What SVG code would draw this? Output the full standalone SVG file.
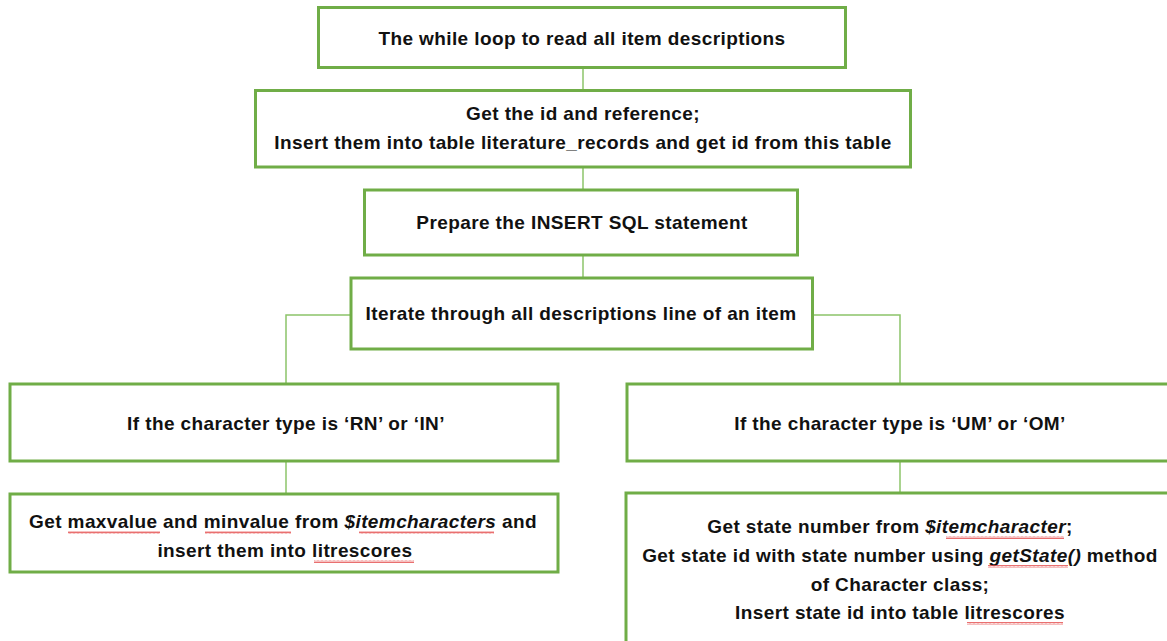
<svg xmlns="http://www.w3.org/2000/svg" width="1167" height="641" viewBox="0 0 1167 641">
  <style>
    .box { fill: #ffffff; stroke: #70AD47; stroke-width: 3; }
    .link { fill: none; stroke: #8CC46A; stroke-width: 1.5; }
    .lbl { font-family: "Liberation Sans", Arial, sans-serif; font-weight: bold; font-size: 19px; letter-spacing: 0.4px; fill: #111111; text-anchor: middle; }
    .it { font-style: italic; }
    .squig { fill: url(#squiggle); }
  </style>
  <defs>
    <!-- spell-check wavy underline -->
    <pattern id="squiggle" x="0" y="0" width="4" height="3" patternUnits="userSpaceOnUse">
      <path d="M0,2.5 L1,0.5 L2,2.5 L3,0.5 L4,2.5" fill="none" stroke="#E34B4B" stroke-width="0.8"/>
    </pattern>
  </defs>

  <!-- connectors -->
  <g id="connectors">
    <line class="link" x1="583" y1="68" x2="583" y2="90"/>
    <line class="link" x1="583" y1="167" x2="583" y2="190"/>
    <line class="link" x1="583" y1="255" x2="583" y2="278"/>
    <polyline class="link" points="351,315 286,315 286,384"/>
    <polyline class="link" points="812,315 900,315 900,384"/>
    <line class="link" x1="286" y1="461" x2="286" y2="494"/>
    <line class="link" x1="900" y1="461" x2="900" y2="493"/>
  </g>

  <g id="node-while-loop">
    <rect class="box" x="318.5" y="7.5" width="527" height="60"/>
    <text class="lbl" x="582" y="45">The while loop to read all item descriptions</text>
  </g>

  <g id="node-get-id">
    <rect class="box" x="255.5" y="90.5" width="655" height="76.5"/>
    <text class="lbl" x="583" y="120">Get the id and reference;</text>
    <text class="lbl" x="583" y="149">Insert them into table literature_records and get id from this table</text>
  </g>

  <g id="node-prepare">
    <rect class="box" x="364.5" y="190" width="433" height="65"/>
    <text class="lbl" x="582" y="229">Prepare the INSERT SQL statement</text>
  </g>

  <g id="node-iterate">
    <rect class="box" x="351" y="278" width="461.5" height="71"/>
    <text class="lbl" x="581" y="320">Iterate through all descriptions line of an item</text>
  </g>

  <g id="node-rn-in">
    <rect class="box" x="10" y="384" width="548" height="77"/>
    <text class="lbl" x="286" y="430">If the character type is ‘RN’ or ‘IN’</text>
  </g>

  <g id="node-um-om">
    <rect class="box" x="627" y="384" width="560" height="77"/>
    <text class="lbl" x="900" y="430">If the character type is ‘UM’ or ‘OM’</text>
  </g>

  <g id="node-minmax">
    <rect class="box" x="10" y="494" width="548" height="78"/>
    <text class="lbl" x="283" y="528">Get maxvalue and minvalue from <tspan class="it">$itemcharacters</tspan> and</text>
    <text class="lbl" x="285" y="557">insert them into litrescores</text>
    <rect class="squig" x="68" y="531" width="92" height="3"/>
    <rect class="squig" x="205" y="531" width="86" height="3"/>
    <rect class="squig" x="359" y="531" width="135" height="3"/>
    <rect class="squig" x="314" y="560" width="100" height="3"/>
  </g>

  <g id="node-state">
    <rect class="box" x="626" y="493" width="560" height="160"/>
    <text class="lbl" x="890" y="533">Get state number from <tspan class="it">$itemcharacter</tspan>;</text>
    <text class="lbl" x="900" y="562">Get state id with state number using <tspan class="it">getState()</tspan> method</text>
    <text class="lbl" x="900" y="591">of Character class;</text>
    <text class="lbl" x="900" y="619">Insert state id into table litrescores</text>
    <rect class="squig" x="946" y="536" width="118" height="3"/>
    <rect class="squig" x="988" y="565" width="80" height="3"/>
    <rect class="squig" x="967" y="622" width="96" height="3"/>
  </g>
</svg>
